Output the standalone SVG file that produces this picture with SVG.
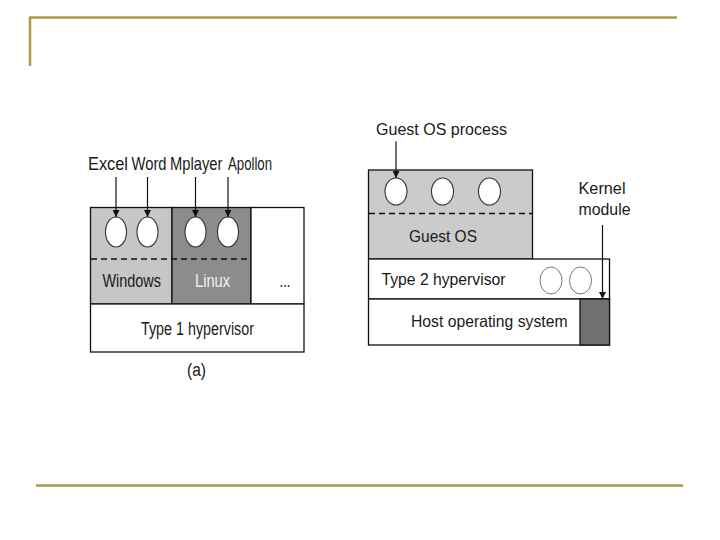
<svg xmlns="http://www.w3.org/2000/svg" width="720" height="540" viewBox="0 0 720 540">
<style>
.frame{stroke:#a89a48;stroke-width:2.5;fill:none}
.box{stroke:#111;stroke-width:1.3}
.dash{stroke:#111;stroke-width:1.3;stroke-dasharray:6 4;fill:none}
.proc{fill:#fff;stroke:#333;stroke-width:1.1}
.proc2{fill:#fff;stroke:#777;stroke-width:1}
.conn{stroke:#111;stroke-width:1.2;fill:none}
text{font-family:"Liberation Sans",Arial,sans-serif;fill:#1a1a1a}
.l{font-size:18px}
.r{font-size:16.5px}
</style>
<defs>
<marker id="ah" viewBox="0 0 10 10" refX="10" refY="5" markerWidth="7" markerHeight="7" markerUnits="userSpaceOnUse" orient="auto">
<path d="M0,0 L10,5 L0,10 z" fill="#111"/>
</marker>
</defs>
<rect width="720" height="540" fill="#fff"/>
<g id="slide-frame">
<polyline class="frame" points="30,66 30,17.5 677,17.5"/>
<line class="frame" x1="36" y1="485.5" x2="683" y2="485.5"/>
</g>

<!-- Left diagram (a) -->
<g id="windows">
<rect class="box" x="90.5" y="207.5" width="81.5" height="96.5" fill="#c6c6c6"/>
<ellipse class="proc" cx="116" cy="232" rx="10.5" ry="15"/>
<ellipse class="proc" cx="147.5" cy="232" rx="10.5" ry="15"/>
<text class="l" x="102.5" y="287" textLength="58.5" lengthAdjust="spacingAndGlyphs">Windows</text>
</g>
<g id="linux">
<rect class="box" x="172" y="207.5" width="79" height="96.5" fill="#8c8c8c"/>
<ellipse class="proc" cx="195.5" cy="232" rx="10.5" ry="15"/>
<ellipse class="proc" cx="228" cy="232" rx="10.5" ry="15"/>
<text class="l" x="195" y="287" textLength="35" lengthAdjust="spacingAndGlyphs" style="fill:#f2f2f2">Linux</text>
</g>
<g id="other-vm">
<rect class="box" x="251" y="207.5" width="53" height="96.5" fill="#fff"/>
<text class="l" x="279.5" y="287" textLength="11" lengthAdjust="spacingAndGlyphs">...</text>
</g>
<line class="dash" x1="91" y1="259" x2="251" y2="259"/>
<g id="type1-hypervisor">
<rect class="box" x="90.5" y="304" width="213.5" height="48" fill="#fff"/>
<text class="l" x="141" y="335" textLength="113" lengthAdjust="spacingAndGlyphs">Type 1 hypervisor</text>
</g>
<g id="apps-labels">
<text class="l" transform="translate(88,170) scale(0.82,1)" textLength="48.8" lengthAdjust="spacingAndGlyphs">Excel</text>
<text class="l" transform="translate(131.5,170) scale(0.82,1)" textLength="42.7" lengthAdjust="spacingAndGlyphs">Word</text>
<text class="l" transform="translate(170,170) scale(0.82,1)" textLength="64" lengthAdjust="spacingAndGlyphs">Mplayer</text>
<text class="l" transform="translate(228,170) scale(0.82,1)" textLength="53.7" lengthAdjust="spacingAndGlyphs">Apollon</text>
</g>
<text id="caption-a" class="l" x="187" y="376" textLength="19" lengthAdjust="spacingAndGlyphs">(a)</text>

<!-- Right diagram -->
<g id="guest-os">
<rect class="box" x="368.5" y="170" width="164" height="89" fill="#cbcbcb"/>
<ellipse class="proc" cx="396" cy="191.5" rx="11" ry="13.5"/>
<ellipse class="proc" cx="442.5" cy="191.5" rx="11" ry="13.5"/>
<ellipse class="proc" cx="489.5" cy="191.5" rx="11" ry="13.5"/>
<line class="dash" x1="369" y1="213.5" x2="532" y2="213.5"/>
<text class="r" x="409" y="242" textLength="68" lengthAdjust="spacingAndGlyphs">Guest OS</text>
</g>
<g id="type2-hypervisor">
<rect class="box" x="368.5" y="259" width="241" height="40" fill="#fff"/>
<ellipse class="proc2" cx="551" cy="280.5" rx="11" ry="13.5"/>
<ellipse class="proc2" cx="580.5" cy="280.5" rx="11" ry="13.5"/>
<text class="r" x="381.5" y="285" textLength="124" lengthAdjust="spacingAndGlyphs">Type 2 hypervisor</text>
</g>
<g id="host-os">
<rect class="box" x="368.5" y="299" width="241" height="46" fill="#fff"/>
<rect x="580" y="299" width="29.5" height="46" fill="#707070" stroke="#111" stroke-width="1.3"/>
<text class="r" x="411" y="327" textLength="156.5" lengthAdjust="spacingAndGlyphs">Host operating system</text>
</g>
<text id="guest-os-process-label" class="r" x="376" y="135" textLength="131" lengthAdjust="spacingAndGlyphs">Guest OS process</text>
<g id="kernel-module-label">
<text class="r" x="578.5" y="193.5" textLength="47" lengthAdjust="spacingAndGlyphs">Kernel</text>
<text class="r" x="578.5" y="215" textLength="52" lengthAdjust="spacingAndGlyphs">module</text>
</g>

<g id="connectors">
<line class="conn" x1="116" y1="177" x2="116" y2="217" marker-end="url(#ah)"/>
<line class="conn" x1="147.5" y1="177" x2="147.5" y2="217" marker-end="url(#ah)"/>
<line class="conn" x1="195.5" y1="177" x2="195.5" y2="217" marker-end="url(#ah)"/>
<line class="conn" x1="228" y1="177" x2="228" y2="217" marker-end="url(#ah)"/>
<line class="conn" x1="396" y1="141.5" x2="396" y2="178" marker-end="url(#ah)"/>
<line class="conn" x1="602.5" y1="225" x2="602.5" y2="299" marker-end="url(#ah)"/>
</g>
</svg>
